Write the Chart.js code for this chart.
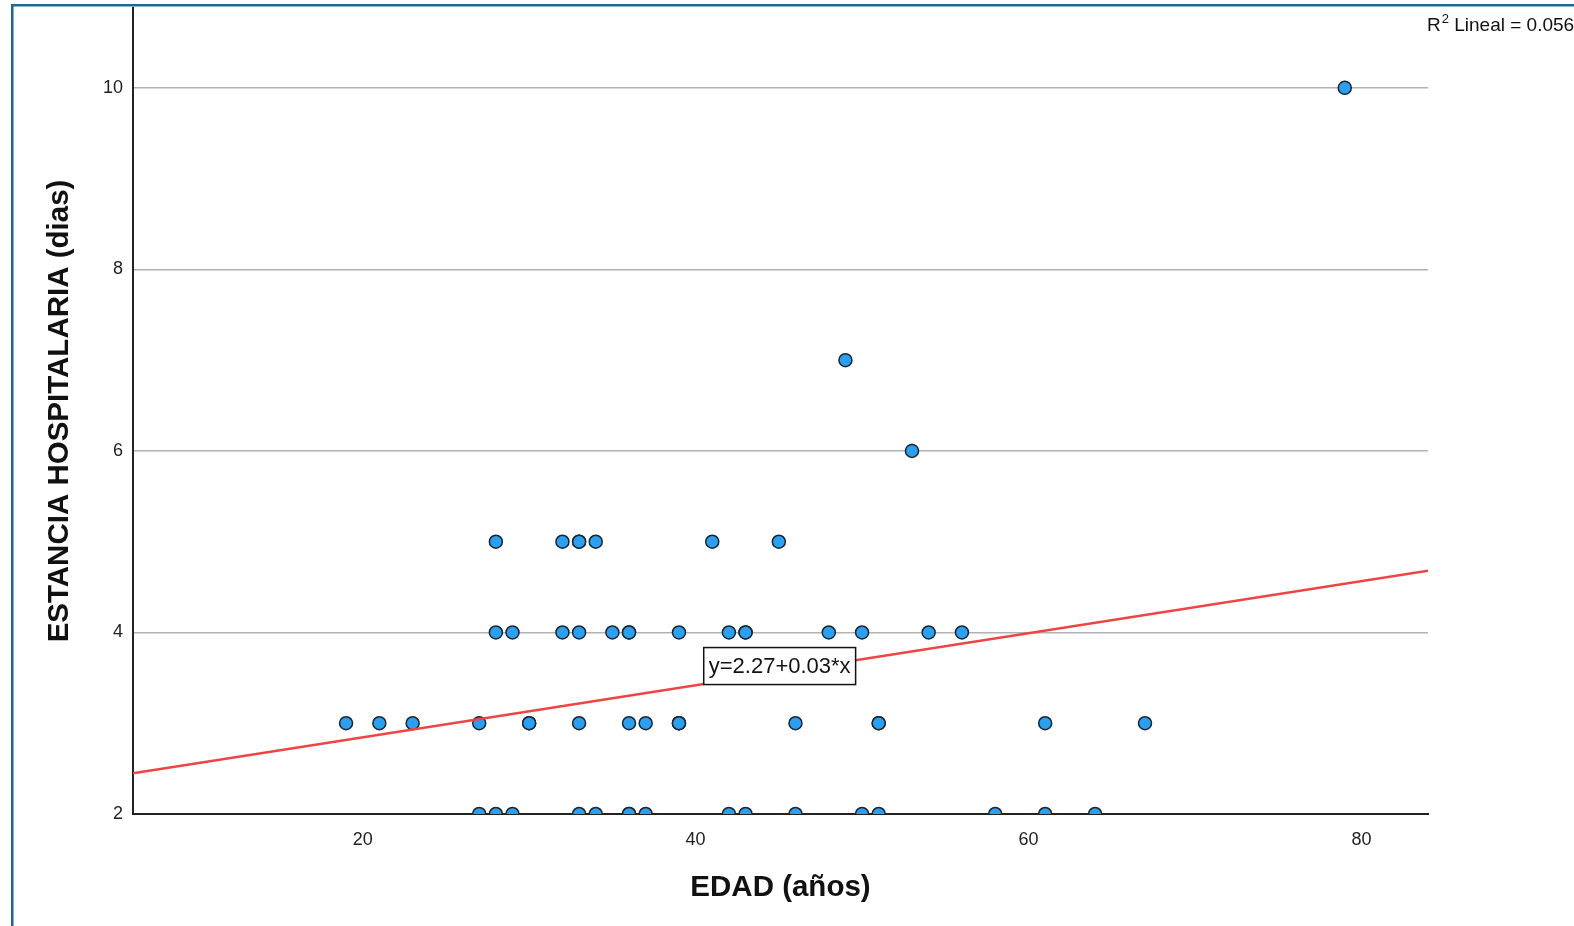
<!DOCTYPE html>
<html>
<head>
<meta charset="utf-8">
<script src="https://cdn.jsdelivr.net/npm/chart.js@4.4.1/dist/chart.umd.min.js"></script>
<style>
  html, body { margin: 0; padding: 0; background: #fff; }
  #wrap { position: relative; width: 1574px; height: 926px; }
</style>
</head>
<body>
<div id="wrap"><canvas id="chart"></canvas></div>
<script>
// edad (años) and estancia (dias) for each patient
const edad = [
    79,
    49,
    53,
    28, 32, 33, 33, 34, 41, 45,
    28, 29, 32, 33, 35, 36, 36, 39, 42, 43, 43, 48, 50, 54, 56,
    19, 21, 23, 27, 30, 30, 33, 36, 37, 39, 39, 39, 46, 51, 51, 61, 67,
    27, 28, 29, 33, 34, 36, 36, 37, 42, 43, 46, 50, 51, 58, 61, 64
];
const estancia = [
    10,
    7,
    6,
    5, 5, 5, 5, 5, 5, 5,
    4, 4, 4, 4, 4, 4, 4, 4, 4, 4, 4, 4, 4, 4, 4,
    3, 3, 3, 3, 3, 3, 3, 3, 3, 3, 3, 3, 3, 3, 3, 3, 3,
    2, 2, 2, 2, 2, 2, 2, 2, 2, 2, 2, 2, 2, 2, 2, 2
];

// fit line ends (y = 2.27 + 0.03*x)
const fitX = [6.2, 84];
const fitY = [2.45, 4.68];

const xTicks = [20, 40, 60, 80];
const yTicks = [2, 4, 6, 8, 10];

const fitLabel = 'y=2.27+0.03*x';
const r2Text = ' Lineal = 0.056';

const FONT = '"Liberation Sans", Arial, sans-serif';

const points = edad.map((e, i) => ({x: e, y: estancia[i]}));
const fitLine = fitX.map((v, i) => ({x: v, y: fitY[i]}));

// blue frame, fit-equation box and the R2 note
const extras = {
    id: 'extras',
    afterDraw(chart) {
        const ctx = chart.ctx;
        const xs = chart.scales.x, ys = chart.scales.y;
        ctx.save();

        // equation box
        const cx = xs.getPixelForValue(45.05);
        const cy = ys.getPixelForValue(3.63);
        ctx.font = '22px ' + FONT;
        const w = ctx.measureText(fitLabel).width + 10;
        const h = 37;
        ctx.fillStyle = '#fff';
        ctx.fillRect(cx - w / 2, cy - h / 2, w, h);
        ctx.strokeStyle = '#111';
        ctx.lineWidth = 1.5;
        ctx.strokeRect(cx - w / 2, cy - h / 2, w, h);
        ctx.fillStyle = '#111';
        ctx.textAlign = 'center';
        ctx.textBaseline = 'middle';
        ctx.fillText(fitLabel, cx, cy + 1);

        // R2 Lineal
        ctx.textAlign = 'left';
        ctx.textBaseline = 'alphabetic';
        ctx.font = '19px ' + FONT;
        ctx.fillText('R', 1427, 31);
        let x = 1427 + ctx.measureText('R').width + 1;
        ctx.font = '13px ' + FONT;
        ctx.fillText('2', x, 23);
        x += ctx.measureText('2').width;
        ctx.font = '19px ' + FONT;
        ctx.fillText(r2Text, x, 31);

        // outer frame
        ctx.fillStyle = '#236591';
        ctx.fillRect(11, 4, 2.5, 930);
        ctx.fillRect(11, 4, 1600, 2.5);
        ctx.restore();
    }
};

new Chart(document.getElementById('chart'), {
    type: 'scatter',
    data: {
        datasets: [{
            type: 'line',
            data: fitLine,
            borderColor: '#ee4444',
            borderWidth: 2.5,
            pointRadius: 0,
            fill: false,
            order: 0
        }, {
            data: points,
            backgroundColor: '#2b9ff0',
            borderColor: '#1b2530',
            borderWidth: 1.5,
            pointRadius: 6.5,
            pointHoverRadius: 6.5,
            order: 1
        }]
    },
    options: {
        responsive: true,
        maintainAspectRatio: false,
        animation: false,
        layout: { padding: { top: 7, right: 146, bottom: 0, left: 0 } },
        plugins: {
            legend: { display: false },
            tooltip: { enabled: false }
        },
        scales: {
            x: {
                type: 'linear',
                min: 6.2,
                max: 84,
                afterBuildTicks: s => { s.ticks = xTicks.map(v => ({value: v})); },
                afterFit: s => { s.height = 112; s.paddingLeft = 0; s.paddingRight = 0; },
                grid: { display: false, drawTicks: false },
                border: { display: true, color: '#222', width: 2 },
                ticks: { color: '#222', font: { family: FONT, size: 18 }, padding: 15, maxRotation: 0 },
                title: {
                    display: true,
                    text: 'EDAD (años)',
                    color: '#111',
                    font: { family: FONT, size: 29.5, weight: 'bold' },
                    padding: { top: 0, bottom: 20 }
                }
            },
            y: {
                type: 'linear',
                min: 2,
                max: 10.88,
                afterBuildTicks: s => { s.ticks = yTicks.map(v => ({value: v})); },
                afterFit: s => { s.width = 133; s.paddingTop = 0; s.paddingBottom = 0; },
                grid: {
                    drawTicks: false,
                    color: c => (c.tick && c.tick.value === 2) ? 'rgba(0,0,0,0)' : '#b2b2b2',
                    lineWidth: 1.5
                },
                border: { display: true, color: '#222', width: 2 },
                ticks: { color: '#222', font: { family: FONT, size: 18 }, padding: 10 },
                title: {
                    display: true,
                    text: 'ESTANCIA HOSPITALARIA (dias)',
                    color: '#111',
                    font: { family: FONT, size: 29.5, weight: 'bold' },
                    padding: { top: 42, bottom: 0 }
                }
            }
        }
    },
    plugins: [extras]
});
</script>
</body>
</html>
